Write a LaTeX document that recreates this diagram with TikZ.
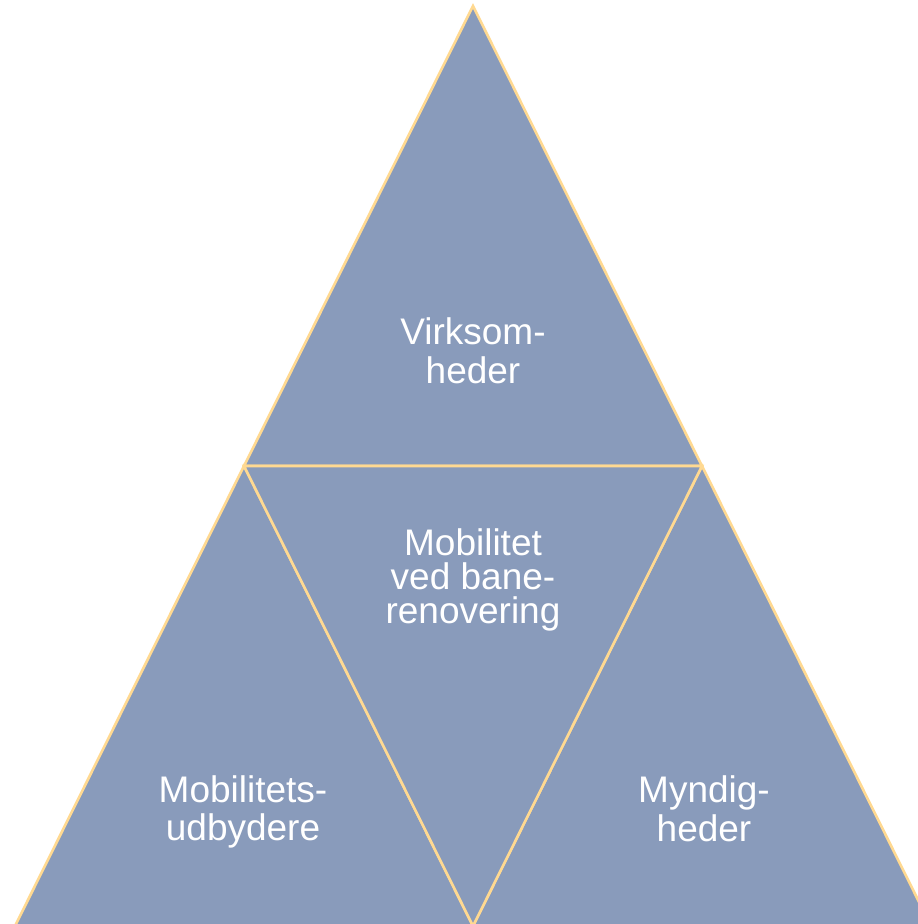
\documentclass[tikz,border=0pt]{standalone}
\usepackage{fontspec}
\setmainfont{Liberation Sans}
\definecolor{tri}{RGB}{137,155,187}
\definecolor{edge}{RGB}{255,217,145}
\begin{document}
\begin{tikzpicture}[x=1pt,y=-1pt,
  part/.style={fill=tri,draw=edge,line width=2.6pt,line join=miter},
  lbl/.style={text=white,align=center,inner sep=0pt,font=\fontsize{37}{38.5}\selectfont}]
\useasboundingbox (0,0) rectangle (918,924);
\clip (0,0) rectangle (918,924);
\coordinate (A) at (473,6);
\coordinate (L) at (15,926);
\coordinate (R) at (931,926);
\coordinate (ML) at (244,466);
\coordinate (MR) at (702,466);
\coordinate (MB) at (473,926);
\draw[part] (A) -- (ML) -- (MR) -- cycle;
\draw[part] (ML) -- (L) -- (MB) -- cycle;
\draw[part] (MR) -- (MB) -- (R) -- cycle;
\draw[part] (ML) -- (MR) -- (MB) -- cycle;
\node[lbl] (top) at (473,351) {Virksom-\\heder};
\node[lbl,font=\fontsize{37}{34}\selectfont] (mid) at (473,580) {Mobilitet\\ved bane-\\renovering};
\node[lbl] (left) at (243,812) {Mobilitets-\\udbydere};
\node[lbl] (right) at (704,809) {Myndig-\\heder};
\end{tikzpicture}
\end{document}
